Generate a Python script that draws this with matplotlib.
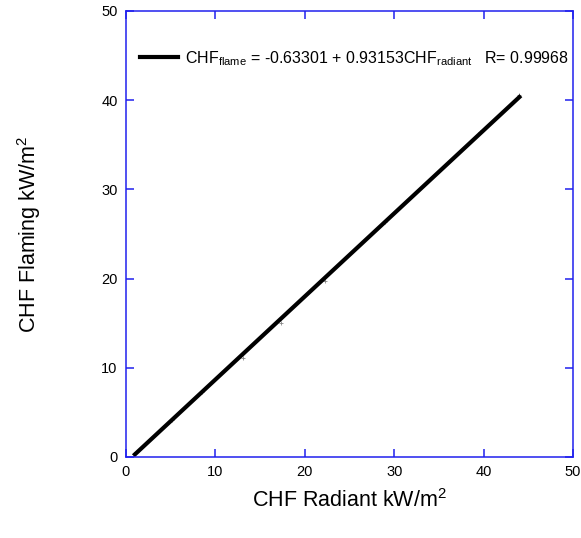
import numpy as np
import matplotlib.pyplot as plt

plt.rcParams['font.family'] = ['Liberation Sans', 'DejaVu Sans']
plt.rcParams['mathtext.fontset'] = 'custom'
plt.rcParams['mathtext.rm'] = 'Liberation Sans'

# measured points (radiant vs flaming)
chf_radiant = [0.9, 5.2, 8.5, 13.1, 17.3, 22.3, 29.0, 39.6, 44.0]
chf_flaming = [0.3, 4.2, 7.3, 11.1, 15.0, 19.7, 26.4, 36.4, 40.6]

# linear fit endpoints
fit_x = [1.0, 44.0]
fit_y = [0.30, 40.35]

fit_label = (r'CHF$_{\mathrm{flame}}$ = -0.63301 + 0.93153CHF$_{\mathrm{radiant}}$'
             '   R= 0.99968')

fig = plt.figure(figsize=(5.81, 5.38), dpi=100)
ax = fig.add_axes([126/581, 1 - 457/538, 447/581, 446/538])

ax.plot(chf_radiant, chf_flaming, '+', color='#888888', ms=3, mew=0.6)
ax.plot(fit_x, fit_y, color='black', lw=3, label=fit_label)

ax.set_xlim(0, 50)
ax.set_ylim(0, 50)
ax.set_xticks(np.arange(0, 51, 10))
ax.set_yticks(np.arange(0, 51, 10))

for s in ax.spines.values():
    s.set_color('#2020ee')
    s.set_linewidth(1.1)
ax.tick_params(direction='in', length=6, width=1.1, color='#2020ee',
               top=True, right=True, labelsize=10.5, pad=6)

ax.set_xlabel(r'CHF Radiant kW/m$^{2}$', fontsize=15.5, labelpad=7)
ax.set_ylabel(r'CHF Flaming kW/m$^{2}$', fontsize=15.5, labelpad=42)

leg = ax.legend(loc='upper left', bbox_to_anchor=(0.0, 0.947), frameon=False,
                fontsize=11.5, handlelength=2.35, handletextpad=0.45)

fig.savefig('out.png', dpi=100)
